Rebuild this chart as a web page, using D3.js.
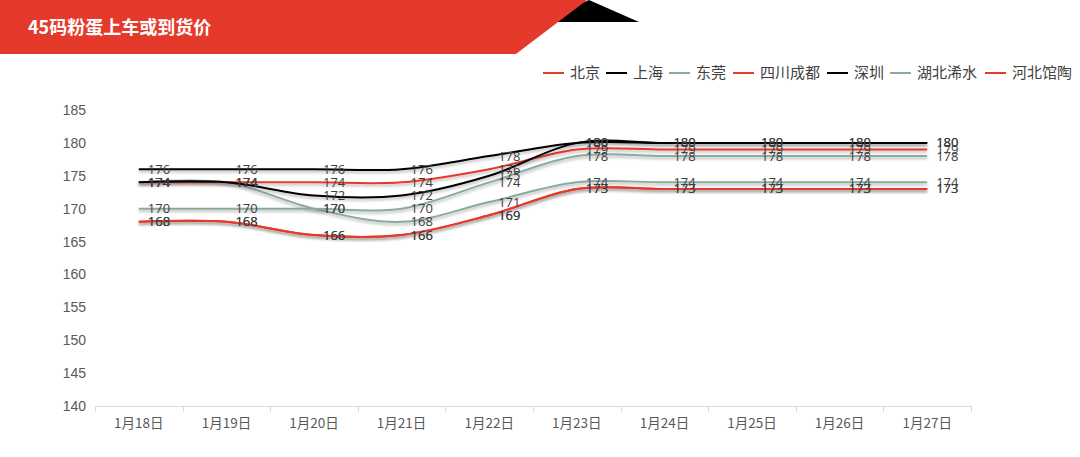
<!DOCTYPE html>
<html><head><meta charset="utf-8">
<script src="https://cdn.jsdelivr.net/npm/d3@7"></script>
<style>
html,body{margin:0;padding:0;background:#fff;}
svg{display:block;}
</style></head>
<body>
<svg id="chart" width="1080" height="457"></svg>
<script>
const title = "45码粉蛋上车或到货价";
const categories = ["1月18日","1月19日","1月20日","1月21日","1月22日","1月23日","1月24日","1月25日","1月26日","1月27日"];
const seriesNames = ["北京","上海","东莞","四川成都","深圳","湖北浠水","河北馆陶"];
const beijing   = [174,174,174,174,176,179,179,179,179,179];
const shanghai  = [176,176,176,176,178,180,180,180,180,180];
const dongguan  = [174,174,170,168,171,174,174,174,174,174];
const chengdu   = [168,168,166,166,169,173,173,173,173,173];
const shenzhen  = [174,174,172,172,175,180,180,180,180,180];
const xishui    = [170,170,170,170,174,178,178,178,178,178];
const guantao   = [168,168,166,166,169,173,173,173,173,173];
const yTicks = [140,145,150,155,160,165,170,175,180,185];
const seriesColors = ["#e8392b","#000000","#8aab9c","#e8392b","#000000","#8aab9c","#e8392b"];

const seriesValues = [beijing, shanghai, dongguan, chengdu, shenzhen, xishui, guantao];
const series = seriesNames.map((n,i)=>({name:n, values:seriesValues[i], color:seriesColors[i]}));

const svg = d3.select("#chart");
const defs = svg.append("defs");
const f = defs.append("filter").attr("id","sh").attr("x","-5%").attr("y","-50%").attr("width","110%").attr("height","200%");
f.append("feDropShadow").attr("dx",0).attr("dy",2).attr("stdDeviation",1.6).attr("flood-color","#000").attr("flood-opacity",0.3);

// Title banner
svg.append("polygon").attr("points","589,0 639,22 540,22").attr("fill","#000");
svg.append("polygon").attr("points","0,0 587,0 516,54 0,54").attr("fill","#e53a2b");
svg.append("text").attr("x",28).attr("y",34).attr("fill","#fff")
  .attr("font-family","'Noto Sans CJK SC', sans-serif").attr("font-weight","bold").attr("font-size",18)
  .text(title);

// Scales
const x = d3.scaleBand().domain(categories).range([95,971]);
const y = d3.scaleLinear().domain([140,185]).range([406,110]);
const cx = d => x(d) + x.bandwidth()/2;

// Y axis labels
const yAxis = svg.append("g").attr("transform","translate(86,0)")
  .call(d3.axisLeft(y).tickValues(yTicks).tickSize(0).tickPadding(0));
yAxis.select(".domain").remove();
yAxis.selectAll("text").attr("font-family","'Liberation Sans', Arial, sans-serif").attr("font-size",14).attr("fill","#595959");

// X axis
const xAxis = svg.append("g").attr("transform","translate(0,406)")
  .call(d3.axisBottom(x).tickSize(0).tickPadding(12));
xAxis.select(".domain").attr("stroke","#d9d9d9").attr("d","M95,0.5H971");
xAxis.selectAll("text").attr("font-family","'Noto Sans CJK SC', sans-serif").attr("font-size",13.5).attr("fill","#595959");
const bounds = categories.map(c=>x(c)).concat([x(categories[categories.length-1])+x.bandwidth()]);
svg.append("g").selectAll("line").data(bounds).join("line")
  .attr("x1",d=>Math.round(d)+0.5).attr("x2",d=>Math.round(d)+0.5)
  .attr("y1",406).attr("y2",412).attr("stroke","#d9d9d9");

// Lines
const line = d3.line().x((v,i)=>cx(categories[i])).y(v=>y(v)).curve(d3.curveCardinal.tension(0));
svg.append("g").selectAll("path").data(series).join("path")
  .attr("d",s=>line(s.values)).attr("fill","none").attr("stroke",s=>s.color)
  .attr("stroke-width",2).attr("filter","url(#sh)");

// Data labels
const lg = svg.append("g");
series.forEach(s=>{
  lg.selectAll(null).data(s.values).join("text")
    .attr("x",(v,i)=>cx(categories[i])+9).attr("y",v=>y(v)).attr("dy","0.35em")
    .attr("font-family","'Open Sans', sans-serif").attr("font-size",13).attr("fill","#404040")
    .text(v=>v);
});

// Legend
const legendX = [543,606,669,733,827,890,985];
const leg = svg.append("g");
series.forEach((s,i)=>{
  leg.append("line").attr("x1",legendX[i]).attr("x2",legendX[i]+21).attr("y1",73).attr("y2",73)
    .attr("stroke",s.color).attr("stroke-width",2);
  leg.append("text").attr("x",legendX[i]+27).attr("y",73).attr("dy","0.36em")
    .attr("font-family","'Noto Sans CJK SC', sans-serif").attr("font-size",15).attr("fill","#404040")
    .text(s.name);
});
</script>
</body></html>
